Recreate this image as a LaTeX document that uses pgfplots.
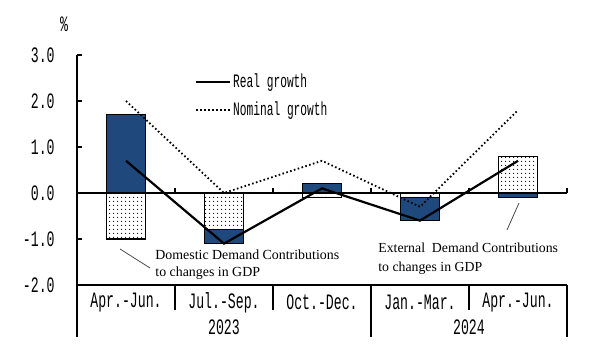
\documentclass[border=0pt]{standalone}
\usepackage{fontspec}
\usepackage{pgfplots}
\pgfplotsset{compat=1.18}
\usetikzlibrary{patterns}
\setmainfont{Liberation Serif}
\newfontfamily\monof[FakeStretch=0.6]{Liberation Mono}
\newfontfamily\monol[FakeStretch=0.59]{Liberation Mono}
\definecolor{barblue}{RGB}{31,73,125}
\pgfdeclarepatternformonly{sdots}{\pgfpointorigin}{\pgfqpoint{2pt}{2pt}}{\pgfqpoint{2pt}{2pt}}{\pgfpathcircle{\pgfqpoint{1pt}{1pt}}{0.35pt}\pgfusepath{fill}}
\begin{document}
\begin{tikzpicture}
\useasboundingbox (-38.5pt,-39pt) rectangle (264pt,142.5pt);
\begin{axis}[
  scale only axis, width=245pt, height=115pt,
  xmin=-0.5, xmax=4.5, ymin=-2, ymax=3,
  axis x line*=bottom, axis y line*=left,
  clip=false,
  xtick={0,1,2,3,4},
  xticklabels={Apr.-Jun.,Jul.-Sep.,Oct.-Dec.,Jan.-Mar.,Apr.-Jun.},
  major x tick style={draw=none},
  xticklabel style={font=\monof\fontsize{11}{12}\selectfont, anchor=center, yshift=-8.8pt},
  ytick={-2,-1,0,1,2,3},
  yticklabels={-2.0,-1.0,0.0,1.0,2.0,3.0},
  yticklabel style={font=\monof\fontsize{11}{12}\selectfont, anchor=east, inner sep=0pt, xshift=-11pt},
  tick align=inside, major tick length=2.5pt,
  axis line style={line width=0.6pt},
  tick style={line width=0.6pt, black},
  legend style={draw=none, fill=none, inner sep=0pt, row sep=3.5pt,
    at={(axis cs:0.70,2.65)}, anchor=north west,
    nodes={inner sep=1pt, font=\monol\fontsize{9.5}{10}\selectfont}},
  legend cell align=left,
  legend image code/.code={\draw[#1] (0pt,0pt) -- (17pt,0pt);},
]
% Blue bars: extent of the filled (solid) segment measured from zero
\addplot[ybar, bar width=0.4, bar shift=0pt, fill=barblue, draw=black, line width=0.6pt, forget plot]
  coordinates {(0,1.7) (1,-1.1) (2,0.2) (3,-0.6) (4,-0.1)};
% Dotted bars drawn on top
\addplot[ybar, bar width=0.4, bar shift=0pt, fill=white, draw=black, line width=0.6pt,
  postaction={pattern=sdots}, forget plot]
  coordinates {(0,-1.0) (1,-0.8) (2,-0.1) (3,-0.1) (4,0.8)};
\draw[line width=0.6pt] (axis cs:-0.5,0) -- (axis cs:4.5,0);
\draw[line width=0.6pt] (axis cs:0.5,0) -- (axis cs:0.5,0.1);
\draw[line width=0.6pt] (axis cs:1.5,0) -- (axis cs:1.5,0.1);
\draw[line width=0.6pt] (axis cs:2.5,0) -- (axis cs:2.5,0.1);
\draw[line width=0.6pt] (axis cs:3.5,0) -- (axis cs:3.5,0.1);
\draw[line width=0.6pt] (axis cs:4.5,0) -- (axis cs:4.5,0.1);
\addplot[black, line width=1.1pt] coordinates {(0,0.7) (1,-1.1) (2,0.1) (3,-0.6) (4,0.7)};
\addlegendentry{Real growth}
\addplot[black, line width=0.9pt, dash pattern=on 0.8pt off 1.2pt] coordinates {(0,2.0) (1,0.0) (2,0.7) (3,-0.3) (4,1.8)};
\addlegendentry{Nominal growth}
% table lines
\draw[line width=0.6pt] (axis cs:-0.5,-2) -- (axis cs:-0.5,-3.13);
\draw[line width=0.6pt] (axis cs:4.5,-2) -- (axis cs:4.5,-3.13);
\draw[line width=0.6pt] (axis cs:2.5,-2) -- (axis cs:2.5,-3.13);
\draw[line width=0.6pt] (axis cs:0.5,-2) -- (axis cs:0.5,-2.54);
\draw[line width=0.6pt] (axis cs:1.5,-2) -- (axis cs:1.5,-2.54);
\draw[line width=0.6pt] (axis cs:3.5,-2) -- (axis cs:3.5,-2.54);
\node[font=\monof\fontsize{11}{12}\selectfont] at (axis cs:1,-2.91) {2023};
\node[font=\monof\fontsize{11}{12}\selectfont] at (axis cs:3.5,-2.91) {2024};
\node[font=\monof\fontsize{11}{12}\selectfont] at (axis cs:-0.633,3.67) {\%};
% annotations
\draw[black!70, line width=0.4pt] (axis cs:-0.061,-1.217) -- (axis cs:0.245,-1.63);
\draw[black!70, line width=0.4pt] (axis cs:4.010,-0.217) -- (axis cs:3.888,-0.804);
\node[anchor=base west, inner sep=0pt, font=\fontsize{6.95}{8}\selectfont] at (axis cs:0.296,-1.435) {Domestic Demand Contributions};
\node[anchor=base west, inner sep=0pt, font=\fontsize{6.95}{8}\selectfont] at (axis cs:0.296,-1.82) {to changes in GDP};
\node[anchor=base west, inner sep=0pt, font=\fontsize{6.9}{8}\selectfont] at (axis cs:2.571,-1.30) {External\ \ Demand Contributions};
\node[anchor=base west, inner sep=0pt, font=\fontsize{6.9}{8}\selectfont] at (axis cs:2.571,-1.70) {to changes in GDP};
\end{axis}
\end{tikzpicture}
\end{document}
